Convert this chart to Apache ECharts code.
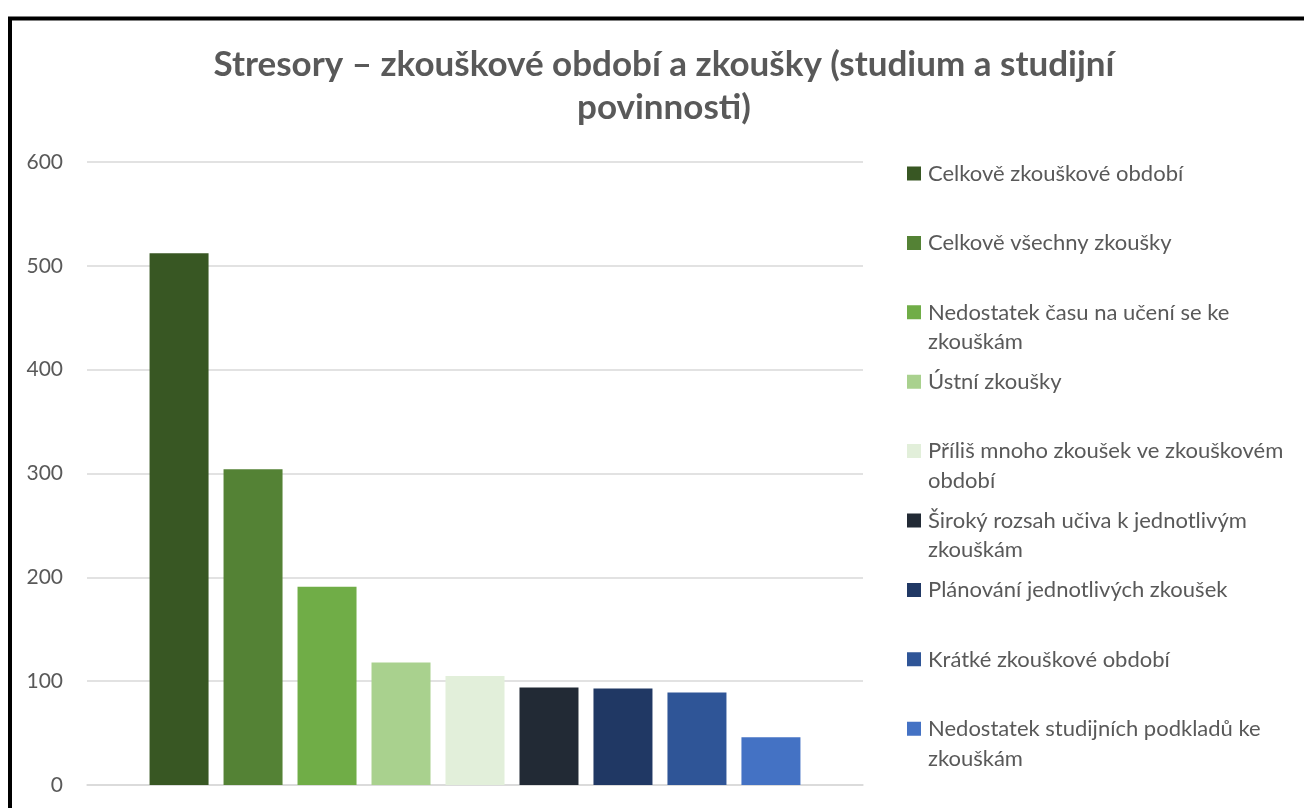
<!DOCTYPE html>
<html>
<head>
<meta charset="utf-8">
<script src="https://cdn.jsdelivr.net/npm/echarts@6/dist/echarts.min.js"></script>
<style>
  html, body { margin: 0; padding: 0; background: #fff; }
  #chart { width: 1304px; height: 808px; }
</style>
</head>
<body>
<div id="chart"></div>
<script>
// Stress factors around the exam period — number of mentions per factor
const titleText = 'Stresory – zkouškové období a zkoušky (studium a studijní\npovinnosti)';
const seriesNames = [
  'Celkově zkouškové období',
  'Celkově všechny zkoušky',
  'Nedostatek času na učení se ke zkouškám',
  'Ústní zkoušky',
  'Příliš mnoho zkoušek ve zkouškovém období',
  'Široký rozsah učiva k jednotlivým zkouškám',
  'Plánování jednotlivých zkoušek',
  'Krátké zkouškové období',
  'Nedostatek studijních podkladů ke zkouškám'
];
const seriesValues = [512, 304, 191, 118, 105, 94, 93, 89, 46];
const seriesColors = ['#385723', '#548235', '#70AD47', '#A9D18E', '#E2EFDA', '#222A35', '#203864', '#2F5597', '#4472C4'];
// Legend labels broken onto two lines where the text wraps
const legendLabels = [
  'Celkově zkouškové období',
  'Celkově všechny zkoušky',
  'Nedostatek času na učení se ke\nzkouškám',
  'Ústní zkoušky',
  'Příliš mnoho zkoušek ve zkouškovém\nobdobí',
  'Široký rozsah učiva k jednotlivým\nzkouškám',
  'Plánování jednotlivých zkoušek',
  'Krátké zkouškové období',
  'Nedostatek studijních podkladů ke\nzkouškám'
];
const yTicks = { min: 0, max: 600, interval: 100 };

const FONT = 'Lato';
const TEXT = '#595959';

const chart = echarts.init(document.getElementById('chart'), null, { renderer: 'canvas' });

const series = seriesNames.map((name, i) => ({
  name: name,
  type: 'bar',
  data: [seriesValues[i]],
  barWidth: 59,
  barGap: '25.4%',
  itemStyle: { color: seriesColors[i] },
  emphasis: { disabled: true }
}));

chart.setOption({
  animation: false,
  backgroundColor: '#fff',
  textStyle: { fontFamily: FONT },
  title: {
    text: titleText,
    left: 664,
    top: 43,
    padding: 0,
    textAlign: 'center',
    textStyle: {
      fontFamily: FONT,
      fontWeight: 'bold',
      fontSize: 35,
      lineHeight: 43,
      color: TEXT
    }
  },
  legend: {
    orient: 'vertical',
    left: 907,
    top: 159,
    padding: 0,
    itemGap: 10.4,
    itemWidth: 14,
    itemHeight: 44,
    // square swatch at the top of a tall icon box so it lines up with the first text line
    icon: 'path://M0,0H14V14H0Z M0,44L0.01,44L0.01,43.99Z',
    data: seriesNames,
    formatter: function (name) {
      const lbl = legendLabels[seriesNames.indexOf(name)];
      return lbl.indexOf('\n') >= 0 ? lbl : lbl + '\n ';
    },
    textStyle: {
      fontFamily: FONT,
      fontSize: 22,
      lineHeight: 29.5,
      color: TEXT,
      padding: [0, 0, 0, 2]
    },
    selectedMode: false
  },
  grid: {
    left: 87,
    right: 441,
    top: 162,
    bottom: 23,
    containLabel: false
  },
  xAxis: {
    type: 'category',
    data: [''],
    axisLine: { show: true, lineStyle: { color: '#D9D9D9', width: 1.5 } },
    axisTick: { show: false },
    axisLabel: { show: false },
    splitLine: { show: false }
  },
  yAxis: {
    type: 'value',
    min: yTicks.min,
    max: yTicks.max,
    interval: yTicks.interval,
    axisLine: { show: false },
    axisTick: { show: false },
    axisLabel: {
      margin: 24,
      fontFamily: FONT,
      fontSize: 21,
      color: TEXT
    },
    splitLine: { lineStyle: { color: '#D9D9D9', width: 1.5 } }
  },
  graphic: [{
    type: 'rect',
    silent: true,
    z: 100,
    shape: { x: 10, y: 18.5, width: 1400, height: 900 },
    style: { fill: 'none', stroke: '#000', lineWidth: 4 }
  }],
  series: series
});
</script>
</body>
</html>
